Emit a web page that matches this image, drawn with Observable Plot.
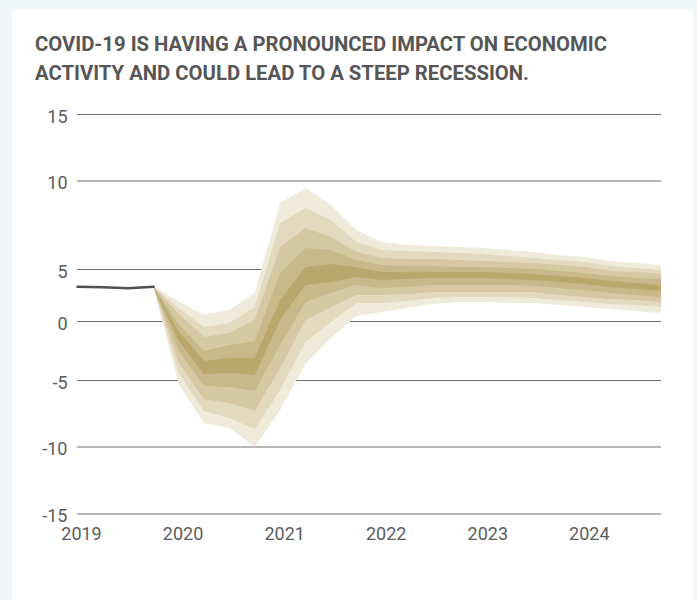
<!DOCTYPE html>
<html>
<head>
<meta charset="utf-8">
<script src="https://cdn.jsdelivr.net/npm/d3@7"></script>
<script src="https://cdn.jsdelivr.net/npm/@observablehq/plot@0.6"></script>
<style>
  html, body { margin: 0; padding: 0; background: #f1f6f9; width: 697px; height: 600px; overflow: hidden; }
  #card { position: absolute; left: 12px; top: 10px; width: 681px; height: 600px; background: #ffffff; }
  .tline { position: absolute; left: 35px; font-family: Roboto, "Open Sans", sans-serif; font-weight: 700;
           font-size: 20px; line-height: 29px; color: #565656; white-space: nowrap; transform-origin: 0 0; }
  #chart { position: absolute; left: 0; top: 90px; }
</style>
</head>
<body>
<div id="card"></div>
<div class="tline" id="t1" style="top:30px">COVID-19 IS HAVING A PRONOUNCED IMPACT ON ECONOMIC</div>
<div class="tline" id="t2" style="top:59px">ACTIVITY AND COULD LEAD TO A STEEP RECESSION.</div>
<div id="chart"></div>
<script>
// Quarters 2019Q1 .. 2024Q4
const quarters = ["2019Q1","2019Q2","2019Q3","2019Q4","2020Q1","2020Q2","2020Q3","2020Q4",
  "2021Q1","2021Q2","2021Q3","2021Q4","2022Q1","2022Q2","2022Q3","2022Q4",
  "2023Q1","2023Q2","2023Q3","2023Q4","2024Q1","2024Q2","2024Q3","2024Q4"];
// Historical growth (2019Q1..2019Q4)
const history = [3.35, 3.3, 3.2, 3.35];
// Fan chart band edges, forecast from 2019Q4 (index 3) to 2024Q4
const upper4 = [3.35, 1.9, 0.6, 1.06, 2.69, 8.73, 9.58, 8.62, 7.2, 6.53, 6.36, 6.3, 6.24, 6.19, 6.07, 5.96, 5.79, 5.68, 5.45, 5.34, 5.23];
const upper3 = [3.35, 1.25, -0.5, -0.17, 1.35, 7.6, 8.45, 7.77, 6.53, 6.07, 6.02, 5.96, 5.9, 5.85, 5.73, 5.62, 5.51, 5.4, 5.17, 5.06, 4.9];
const upper2 = [3.35, 0.7, -1.35, -1.02, 0.1, 6.24, 7.32, 6.81, 5.96, 5.62, 5.56, 5.56, 5.51, 5.45, 5.4, 5.34, 5.23, 5.11, 4.81, 4.71, 4.52];
const upper1 = [3.35, -0.25, -2.55, -2.03, -1.69, 4.62, 6.19, 6.07, 5.51, 5.23, 5.17, 5.17, 5.11, 5.11, 5.06, 5.0, 4.81, 4.62, 4.33, 4.13, 4.04];
const upper0 = [3.35, -0.85, -3.4, -3.14, -3.14, 2.02, 5.11, 5.28, 5.11, 4.71, 4.71, 4.71, 4.71, 4.71, 4.62, 4.52, 4.33, 4.13, 3.85, 3.65, 3.46];
const lower0 = [3.35, -1.7, -4.5, -4.41, -4.58, 0.1, 3.46, 3.75, 4.23, 3.94, 4.04, 4.13, 4.13, 4.13, 4.04, 3.94, 3.75, 3.56, 3.27, 3.08, 2.88];
const lower1 = [3.35, -2.45, -5.45, -5.53, -5.83, -2.03, 1.83, 2.69, 3.46, 3.17, 3.27, 3.46, 3.46, 3.46, 3.46, 3.37, 3.17, 2.98, 2.69, 2.5, 2.31];
const lower2 = [3.35, -3.5, -6.45, -6.73, -7.33, -3.98, 0.1, 1.35, 2.5, 2.5, 2.6, 2.79, 2.79, 2.79, 2.79, 2.79, 2.5, 2.31, 2.12, 2.02, 1.83];
const lower3 = [3.35, -4.4, -7.35, -7.86, -8.68, -5.75, -1.78, -0.08, 1.73, 1.73, 1.92, 2.21, 2.31, 2.31, 2.31, 2.21, 2.02, 1.83, 1.63, 1.54, 1.35];
const lower4 = [3.35, -5.3, -8.25, -8.61, -10.04, -7.26, -3.64, -1.44, 0.48, 0.87, 1.25, 1.63, 1.83, 1.83, 1.73, 1.73, 1.54, 1.35, 1.15, 0.96, 0.77];
const yTicks = [-15, -10, -5, 0, 5, 10, 15];
const yearLabels = ["2019", "2020", "2021", "2022", "2023", "2024"];
const bandColors = ["#f0eadb", "#e3d9bf", "#d5c8a3", "#c9b98a", "#baa76c"];

const fcStart = quarters.indexOf("2019Q4");
const fan = upper4.map((_, j) => ({
  i: fcStart + j, u4: upper4[j], u3: upper3[j], u2: upper2[j], u1: upper1[j], u0: upper0[j],
  l0: lower0[j], l1: lower1[j], l2: lower2[j], l3: lower3[j], l4: lower4[j]
}));
const hist = history.map((v, i) => ({i, v}));
const bands = [["u4","l4"],["u3","l3"],["u2","l2"],["u1","l1"],["u0","l0"]];
const xTicks = yearLabels.map(y => quarters.indexOf(y + "Q1"));

const chart = Plot.plot({
  width: 697,
  height: 480,
  marginLeft: 77,
  marginRight: 36,
  marginTop: 24,
  marginBottom: 56.5,
  style: {fontFamily: "Roboto, sans-serif", fontSize: "18px", color: "#5c5c5c", background: "transparent", overflow: "visible"},
  x: {type: "linear", domain: [0, quarters.length - 1]},
  y: {type: "linear", domain: yTicks, range: [423.5, 356.5, 290, 231, 179, 90.5, 24]},
  marks: [
    Plot.ruleY(yTicks, {stroke: "#6e6e6e", strokeWidth: 1.2}),
    ...bands.map(([a, b], k) => Plot.areaY(fan, {x: "i", y1: a, y2: b, fill: bandColors[k]})),
    Plot.lineY(hist, {x: "i", y: "v", stroke: "#505050", strokeWidth: 2.5}),
    Plot.axisY(yTicks, {tickSize: 0, tickPadding: 10, fontSize: 18, dy: 2.5, label: null,
      tickFormat: d => String(d), fill: "#5c5c5c"}),
    Plot.axisX(xTicks, {tickSize: 0, tickPadding: 13, fontSize: 18, dx: 4, label: null,
      tickFormat: d => yearLabels[xTicks.indexOf(d)], fill: "#5c5c5c"})
  ]
});
document.getElementById("chart").appendChild(chart);

function fitTitle() {
  const targets = {t1: 572, t2: 494};
  for (const id in targets) {
    const el = document.getElementById(id);
    el.style.transform = "none";
    const w = el.getBoundingClientRect().width;
    if (w > 0) el.style.transform = `scaleX(${targets[id] / w})`;
  }
}
fitTitle();
if (document.fonts && document.fonts.ready) document.fonts.ready.then(fitTitle);
</script>
</body>
</html>
